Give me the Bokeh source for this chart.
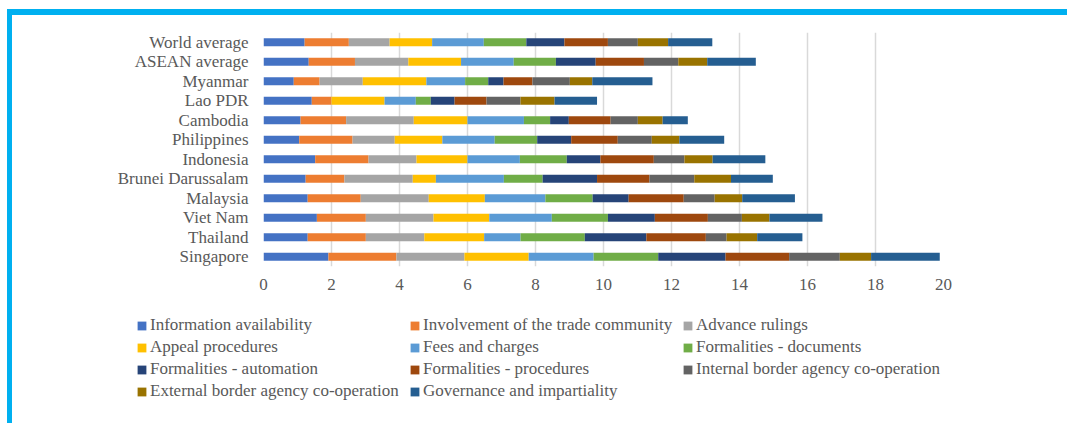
from bokeh.plotting import figure
from bokeh.layouts import column
from bokeh.models import (FactorRange, Range1d, FixedTicker, Legend, LegendItem,
                          ColumnDataSource)
from bokeh.embed import file_html
from bokeh.resources import INLINE

# Economies, listed top to bottom
categories = ["World average", "ASEAN average", "Myanmar", "Lao PDR", "Cambodia",
              "Philippines", "Indonesia", "Brunei Darussalam", "Malaysia",
              "Viet Nam", "Thailand", "Singapore"]

# Trade facilitation indicator scores (same order as categories)
information_availability = [1.21, 1.33, 0.89, 1.42, 1.09, 1.05, 1.52, 1.24, 1.30, 1.57, 1.30, 1.91]
involvement_trade_community = [1.30, 1.36, 0.76, 0.58, 1.34, 1.57, 1.57, 1.14, 1.56, 1.44, 1.71, 2.00]
advance_rulings = [1.20, 1.57, 1.27, 0.00, 1.99, 1.24, 1.41, 2.01, 2.00, 1.99, 1.72, 2.00]
appeal_procedures = [1.25, 1.55, 1.87, 1.56, 1.58, 1.40, 1.50, 0.68, 1.65, 1.64, 1.76, 1.89]
fees_and_charges = [1.52, 1.55, 1.14, 0.92, 1.66, 1.54, 1.54, 2.00, 1.78, 1.84, 1.07, 1.91]
formalities_documents = [1.25, 1.24, 0.68, 0.44, 0.77, 1.25, 1.38, 1.14, 1.39, 1.65, 1.89, 1.90]
formalities_automation = [1.12, 1.17, 0.45, 0.70, 0.55, 1.00, 0.99, 1.60, 1.06, 1.38, 1.81, 1.98]
formalities_procedures = [1.28, 1.42, 0.85, 0.94, 1.23, 1.37, 1.57, 1.54, 1.62, 1.56, 1.75, 1.87]
internal_cooperation = [0.88, 1.01, 1.10, 1.00, 0.80, 1.00, 0.90, 1.32, 0.91, 1.00, 0.61, 1.49]
external_cooperation = [0.89, 0.85, 0.66, 1.00, 0.73, 0.81, 0.83, 1.08, 0.81, 0.81, 0.90, 0.92]
governance_impartiality = [1.30, 1.43, 1.77, 1.25, 0.74, 1.32, 1.55, 1.23, 1.55, 1.56, 1.33, 2.02]

series_names = ["Information availability", "Involvement of the trade community",
                "Advance rulings", "Appeal procedures", "Fees and charges",
                "Formalities - documents", "Formalities - automation",
                "Formalities - procedures", "Internal border agency co-operation",
                "External border agency co-operation", "Governance and impartiality"]
series_values = [information_availability, involvement_trade_community, advance_rulings,
                 appeal_procedures, fees_and_charges, formalities_documents,
                 formalities_automation, formalities_procedures, internal_cooperation,
                 external_cooperation, governance_impartiality]
series_colors = ["#4472C4", "#ED7D31", "#A5A5A5", "#FFC000", "#5B9BD5", "#70AD47",
                 "#264478", "#9E480E", "#636363", "#997300", "#255E91"]

x_ticks = [0, 2, 4, 6, 8, 10, 12, 14, 16, 18, 20]

FONT = "Liberation Serif"
TEXT = "#595959"
ACCENT = "#00B0F0"
W = 1067
CHART_H = 300
LEGEND_H = 123


def accent_frame(height, with_top):
    """CSS background that paints the cyan frame behind a transparent canvas."""
    grad = f"linear-gradient({ACCENT}, {ACCENT})"
    if with_top:
        images = [grad, grad]
        sizes = [f"5px {height - 9}px", f"{W - 8}px 6px"]
        pos = ["7px 9px", "8px 9px"]
    else:
        images = [grad]
        sizes = [f"5px {height}px"]
        pos = ["7px 0px"]
    return {
        "background-color": "white",
        "background-image": ", ".join(images),
        "background-size": ", ".join(sizes),
        "background-position": ", ".join(pos),
        "background-repeat": "no-repeat",
    }


keys = [f"s{i}" for i in range(len(series_names))]
data = {"cat": categories}
for k, v in zip(keys, series_values):
    data[k] = v
source = ColumnDataSource(data)

# ---- stacked bar chart ----
p = figure(width=W, height=CHART_H, output_backend="svg", toolbar_location=None,
           y_range=FactorRange(factors=list(reversed(categories)), range_padding=0),
           x_range=Range1d(0, 20),
           min_border_left=263, min_border_right=124, min_border_top=32,
           min_border_bottom=CHART_H - 266)
p.frame_align = False
p.outline_line_color = None
p.background_fill_color = "white"
p.border_fill_alpha = 0
p.styles = accent_frame(CHART_H, True)

p.hbar_stack(keys, y="cat", height=0.4, color=series_colors,
             line_color=None, source=source)

p.xaxis.ticker = FixedTicker(ticks=x_ticks)
p.xaxis.axis_line_color = None
p.xaxis.major_tick_line_color = None
p.xaxis.minor_tick_line_color = None
p.xaxis.major_tick_out = 0
p.xaxis.major_label_standoff = 12
p.xaxis.major_label_text_font = FONT
p.xaxis.major_label_text_font_size = "17px"
p.xaxis.major_label_text_color = TEXT

p.yaxis.axis_line_color = None
p.yaxis.major_tick_line_color = None
p.yaxis.minor_tick_line_color = None
p.yaxis.major_tick_out = 0
p.yaxis.major_label_standoff = 15
p.yaxis.major_label_text_font = FONT
p.yaxis.major_label_text_font_size = "17px"
p.yaxis.major_label_text_color = TEXT

p.ygrid.grid_line_color = None
p.xgrid.grid_line_color = "#D9D9D9"
p.xgrid.grid_line_width = 1.5

# ---- legend strip below the chart ----
lg = figure(width=W, height=LEGEND_H, output_backend="svg", toolbar_location=None,
            x_range=Range1d(0, 1), y_range=FactorRange(factors=categories),
            x_axis_type=None, y_axis_type=None,
            min_border_left=0, min_border_right=0, min_border_top=0, min_border_bottom=0)
lg.frame_align = False
lg.outline_line_color = None
lg.background_fill_alpha = 0
lg.border_fill_alpha = 0
lg.grid.grid_line_color = None
lg.styles = accent_frame(LEGEND_H, False)

# hidden copies of the series, used only for the legend swatches
swatches = lg.hbar_stack(keys, y="cat", height=0.4, color=series_colors,
                         line_color=None, source=source, visible=False)
items = [LegendItem(label=n, renderers=[r]) for n, r in zip(series_names, swatches)]
legend = Legend(items=items, orientation="horizontal", ncols=3,
                location=(136, 21), margin=0,
                glyph_width=11, glyph_height=11, label_standoff=3,
                label_width=259, label_height=22, spacing=0, padding=10,
                label_text_font=FONT, label_text_font_size="17px",
                label_text_color=TEXT, border_line_color=None,
                background_fill_alpha=0)
lg.add_layout(legend, "center")

layout = column(p, lg, spacing=0)
open("out.html", "w").write(file_html(layout, INLINE))
